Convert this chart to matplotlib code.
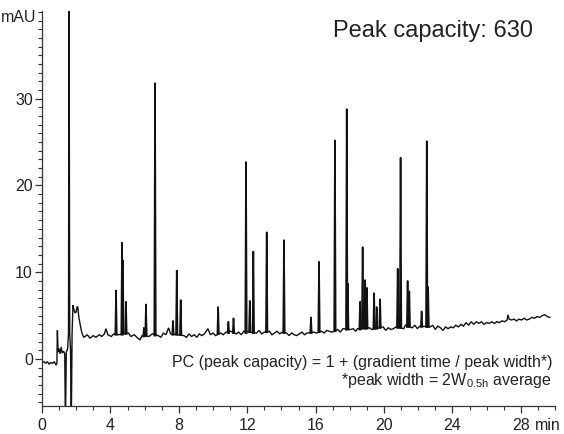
# chromatogram_peak_capacity.py

import matplotlib
matplotlib.use('Agg')
import matplotlib.pyplot as plt
from matplotlib.ticker import MultipleLocator
import matplotlib.transforms as mtransforms

# Background trace (noisy baseline, void peak and its dips), min / mAU
trace_t = [0.00, 0.12, 0.22, 0.32, 0.42, 0.52, 0.62, 0.72, 0.82, 0.87, 0.90, 0.94,
           1.00, 1.06, 1.12, 1.18, 1.26, 1.33, 1.37, 1.42, 1.50, 1.55, 1.58, 1.62,
           1.67, 1.71, 1.76, 1.81, 1.88, 1.94, 1.99, 2.05, 2.09, 2.15, 2.22, 2.30,
           2.37, 2.45, 2.65, 2.80, 3.00, 3.15, 3.35, 3.50, 3.65, 3.74, 3.85, 4.05,
           4.20, 4.45, 5.05, 5.20, 5.40, 5.55, 5.73, 5.85, 6.25, 6.45, 6.80, 6.95,
           7.10, 7.25, 7.40, 7.52, 8.30, 8.45, 8.60, 8.75, 8.90, 9.05, 9.20, 9.35,
           9.50, 9.70, 9.85, 10.00, 10.15, 10.45, 10.60, 10.75, 11.05, 11.35, 11.50, 11.65,
           11.80, 12.55, 12.70, 12.85, 13.00, 13.30, 13.45, 13.60, 13.75, 13.90, 14.05, 14.30,
           14.45, 14.60, 14.75, 14.90, 15.05, 15.20, 15.35, 15.50, 15.90, 16.05, 16.35, 16.50,
           16.65, 16.80, 16.95, 17.30, 17.45, 17.60, 18.05, 18.20, 18.35, 18.45, 19.15, 19.30,
           19.95, 20.10, 20.25, 20.40, 20.55, 20.70, 21.15, 21.25, 21.65, 21.80, 21.95, 22.10,
           22.70, 22.85, 23.00, 23.15, 23.30, 23.45, 23.60, 23.75, 23.90, 24.05, 24.20, 24.35,
           24.50, 24.65, 24.80, 24.95, 25.10, 25.25, 25.40, 25.55, 25.70, 25.85, 26.00, 26.15,
           26.30, 26.45, 26.60, 26.75, 26.90, 27.05, 27.20, 27.25, 27.32, 27.45, 27.60, 27.75,
           27.90, 28.05, 28.20, 28.35, 28.50, 28.65, 28.80, 28.95, 29.10, 29.25, 29.40, 29.55,
           29.70]
trace_mau = [-0.4, -0.3, -0.5, -0.3, -0.6, -0.4, -0.5, -0.3, -0.7, -0.5, 3.3, 0.8,
             1.2, 0.6, 1.4, 0.7, 0.9, 0.6, -8.0, 0.8, 1.2, 3.0, 45.0, 3.0,
             1.0, -8.0, 3.0, 6.2, 5.6, 5.3, 5.4, 6.0, 6.0, 4.9, 4.1, 3.3,
             2.8, 2.5, 2.8, 2.4, 2.7, 2.5, 2.8, 2.6, 2.9, 3.5, 2.8, 2.6,
             2.9, 2.8, 3.0, 2.6, 2.8, 2.5, 2.2, 2.7, 2.6, 2.9, 2.7, 2.5,
             3.0, 2.8, 3.6, 2.9, 2.7, 2.5, 2.9, 2.6, 2.8, 2.5, 2.9, 2.7,
             2.9, 3.5, 2.8, 3.0, 2.7, 3.0, 2.8, 3.1, 3.2, 2.9, 3.1, 2.8,
             3.2, 3.0, 3.3, 2.9, 3.1, 3.2, 2.8, 3.0, 3.2, 2.9, 3.1, 3.0,
             2.7, 3.0, 2.8, 2.7, 2.9, 3.1, 2.8, 3.0, 3.1, 3.0, 3.2, 3.0,
             3.3, 3.2, 3.1, 3.4, 3.1, 3.5, 3.4, 3.5, 3.2, 3.5, 3.6, 3.4,
             3.7, 3.3, 3.6, 3.4, 3.5, 3.7, 3.5, 3.9, 3.6, 3.9, 3.5, 3.8,
             3.7, 3.9, 3.4, 3.8, 3.6, 3.3, 3.7, 3.5, 3.7, 3.6, 3.9, 3.7,
             4.0, 3.8, 4.2, 3.9, 4.3, 4.0, 4.3, 4.1, 4.3, 4.0, 4.2, 4.1,
             4.3, 4.1, 4.3, 4.2, 4.4, 4.3, 4.5, 5.1, 4.6, 4.5, 4.6, 4.4,
             4.6, 4.5, 4.7, 4.5, 4.6, 4.8, 4.7, 4.9, 4.8, 5.0, 5.1, 4.9,
             4.8]

# Sharp analyte peaks: retention time, apex height, foot level
peak_t = [4.33, 4.68, 4.73, 4.91, 5.96, 6.08, 6.61, 7.66, 7.88, 8.11,
          10.30, 10.90, 11.20, 11.93, 12.15, 12.36, 13.14, 14.15, 15.73, 16.20,
          17.13, 17.82, 17.88, 18.60, 18.75, 18.90, 19.00, 19.42, 19.57, 19.77,
          20.80, 20.97, 21.38, 21.48, 22.20, 22.50, 22.58]
peak_top = [7.9, 13.4, 11.4, 6.6, 3.6, 6.3, 31.8, 4.4, 10.2, 6.8,
            6.0, 4.3, 4.7, 22.7, 6.7, 12.4, 14.6, 13.7, 4.8, 11.2,
            25.2, 28.8, 8.7, 6.6, 12.9, 9.1, 8.2, 7.6, 6.0, 6.9,
            10.4, 23.2, 9.0, 7.8, 5.5, 25.1, 8.3]
peak_foot = [2.8, 2.8, 2.9, 2.9, 2.6, 2.7, 2.7, 2.8, 2.8, 2.8,
             2.9, 3.0, 3.0, 3.0, 3.1, 3.0, 3.1, 3.0, 3.0, 3.1,
             3.2, 3.4, 3.4, 3.4, 3.5, 3.5, 3.5, 3.5, 3.5, 3.6,
             3.6, 3.6, 3.7, 3.7, 3.7, 3.7, 3.7]

x_ticks = [0, 4, 8, 12, 16, 20, 24, 28]
y_ticks = [0, 10, 20, 30]

TEXT = '#222222'
LINE = '#111111'
plt.rcParams['font.family'] = ['Liberation Sans', 'DejaVu Sans']
plt.rcParams['mathtext.fontset'] = 'custom'
plt.rcParams['mathtext.rm'] = 'Liberation Sans'

fig = plt.figure(figsize=(5.64, 4.34), dpi=100)
ax = fig.add_axes([42 / 564, 1 - 406 / 434, 513 / 564, 395 / 434])

ax.plot(trace_t, trace_mau, color=LINE, lw=1.0, solid_joinstyle='miter')
half_w = 0.045
for t, top, foot in zip(peak_t, peak_top, peak_foot):
    ax.plot([t - half_w, t, t + half_w], [foot, top, foot], color=LINE, lw=1.2)

ax.set_xlim(0, 30)
ax.set_ylim(-5.41, 40.1)

for side in ['top', 'right']:
    ax.spines[side].set_visible(False)
for side in ['left', 'bottom']:
    ax.spines[side].set_color('#333333')
    ax.spines[side].set_linewidth(0.9)

ax.set_xticks(x_ticks)
ax.set_yticks(y_ticks)
ax.xaxis.set_minor_locator(MultipleLocator(1))
ax.yaxis.set_minor_locator(MultipleLocator(1))
ax.tick_params(which='major', direction='out', length=5, width=0.9, color='#333333',
               labelcolor=TEXT, labelsize=11.5)
ax.tick_params(which='minor', direction='out', length=3, width=0.8, color='#333333')
ax.tick_params(axis='x', pad=3.5)
ax.tick_params(axis='y', pad=1.5)

# unit labels
trans_y = mtransforms.blended_transform_factory(ax.transAxes, ax.transData)
ax.text(-6 / 513, 39.4, 'mAU', transform=trans_y, ha='right', va='center',
        fontsize=11.5, color=TEXT)
trans_x = mtransforms.blended_transform_factory(ax.transData, ax.transAxes)
ax.text(29.6, -19 / 395, 'min', transform=trans_x, ha='center', va='center',
        fontsize=11.5, color=TEXT)

fig.text(533 / 564, 1 - 31 / 434, 'Peak capacity: 630', ha='right', va='center',
         fontsize=17, color=TEXT)
fig.text(552 / 564, 1 - 362 / 434, 'PC (peak capacity) = 1 + (gradient time / peak width*)',
         ha='right', va='center', fontsize=11.5, color=TEXT)
fig.text(552 / 564, 1 - 381 / 434, '*peak width = 2W$\\mathregular{_{0.5h}}$ average',
         ha='right', va='center', fontsize=11.5, color=TEXT)

fig.savefig('out.png', dpi=100)
plt.close(fig)
